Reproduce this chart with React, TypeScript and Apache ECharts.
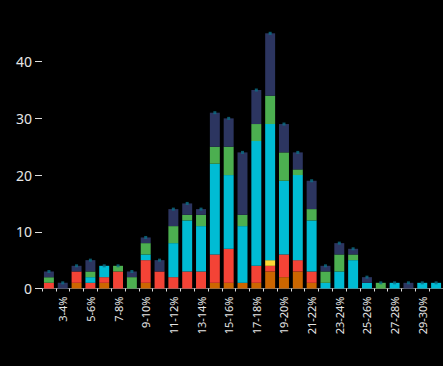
import React, { useEffect, useRef } from "react";
import * as echarts from "echarts";

const categories = [
  "2-3%", "3-4%", "4-5%", "5-6%", "6-7%", "7-8%", "8-9%", "9-10%", "10-11%", "11-12%",
  "12-13%", "13-14%", "14-15%", "15-16%", "16-17%", "17-18%", "18-19%", "19-20%", "20-21%", "21-22%",
  "22-23%", "23-24%", "24-25%", "25-26%", "26-27%", "27-28%", "28-29%", "29-30%", "30-31%",
];

const orangeValues = [0, 0, 1, 0, 1, 0, 0, 1, 0, 0, 0, 0, 1, 1, 1, 1, 3, 2, 3, 1, 0, 0, 0, 0, 0, 0, 0, 0, 0];
const redValues    = [1, 0, 2, 1, 1, 3, 0, 4, 3, 2, 3, 3, 5, 6, 0, 3, 1, 4, 2, 2, 0, 0, 0, 0, 0, 0, 0, 0, 0];
const yellowValues = [0, 0, 0, 0, 0, 0, 0, 0, 0, 0, 0, 0, 0, 0, 0, 0, 1, 0, 0, 0, 0, 0, 0, 0, 0, 0, 0, 0, 0];
const cyanValues   = [0, 0, 0, 1, 2, 0, 0, 1, 0, 6, 9, 8, 16, 13, 10, 22, 24, 13, 15, 9, 1, 3, 5, 1, 0, 1, 0, 1, 1];
const greenValues  = [1, 0, 0, 1, 0, 1, 2, 2, 0, 3, 1, 2, 3, 5, 2, 3, 5, 5, 1, 2, 2, 3, 1, 0, 1, 0, 0, 0, 0];
const navyValues   = [1, 1, 1, 2, 0, 0, 1, 1, 2, 3, 2, 1, 6, 5, 11, 6, 11, 5, 3, 5, 1, 2, 1, 1, 0, 0, 1, 0, 0];

const yTickValues = [0, 10, 20, 30, 40];

const seriesDefs = [
  { name: "orange", data: orangeValues, color: "#cc6600" },
  { name: "red", data: redValues, color: "#f44336" },
  { name: "yellow", data: yellowValues, color: "#fdd835" },
  { name: "cyan", data: cyanValues, color: "#00bcd4" },
  { name: "green", data: greenValues, color: "#4caf50" },
  { name: "navy", data: navyValues, color: "#2c3560" },
];

export default function App() {
  const ref = useRef<HTMLDivElement>(null);
  useEffect(() => {
    if (!ref.current) return;
    const chart = echarts.init(ref.current, null, { renderer: "svg" });
    const totals = categories.map((_, i) =>
      seriesDefs.reduce((s, d) => s + d.data[i], 0)
    );
    chart.setOption({
      animation: false,
      backgroundColor: "#000000",
      grid: { left: 42, right: 0, top: 33.3, bottom: 77.5, containLabel: false },
      xAxis: {
        type: "category",
        data: categories,
        axisLine: { show: true, lineStyle: { color: "#777", width: 1 } },
        axisTick: { show: true, alignWithLabel: false, interval: 0, length: 3, lineStyle: { color: "#ddd" } },
        axisLabel: {
          interval: (i: number) => i % 2 === 1,
          rotate: 90,
          color: "#e6e6e6",
          fontSize: 11,
          fontFamily: "Noto Sans",
          margin: 8,
        },
      },
      yAxis: {
        type: "value",
        min: 0,
        max: 45,
        interval: 10,
        splitLine: { show: false },
        axisLine: { show: false },
        axisTick: { show: true, length: 7, customValues: yTickValues, lineStyle: { color: "#ddd" } },
        axisLabel: {
          customValues: yTickValues,
          color: "#e6e6e6",
          fontSize: 14,
          fontFamily: "Noto Sans",
          margin: 10,
        },
      },
      series: [
        ...seriesDefs.map((d) => ({
          name: d.name,
          type: "bar",
          stack: "total",
          data: d.data,
          barCategoryGap: "28%",
          itemStyle: { color: d.color },
        })),
        {
          name: "total",
          type: "scatter",
          data: totals,
          symbol: "rect",
          symbolSize: 3,
          itemStyle: { color: "#0b6e86" },
          z: 5,
        },
      ],
    });
    return () => chart.dispose();
  }, []);
  return (
    <div
      ref={ref}
      style={{ position: "fixed", left: 0, top: 0, width: 443, height: 366 }}
    />
  );
}
